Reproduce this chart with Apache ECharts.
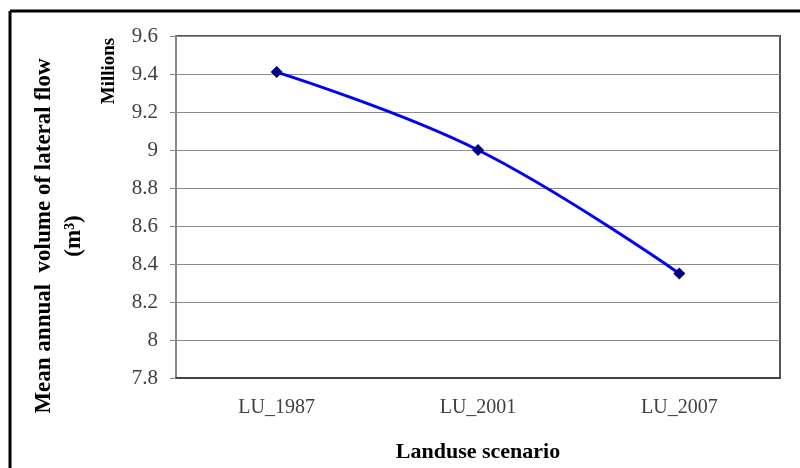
<!DOCTYPE html>
<html>
<head>
<meta charset="utf-8">
<script src="https://cdn.jsdelivr.net/npm/echarts@6/dist/echarts.min.js"></script>
<style>
  html, body { margin: 0; padding: 0; background: #fff; }
  #chart { width: 800px; height: 468px; }
</style>
</head>
<body>
<div id="chart"></div>
<script>
  // data
  const scenarios = ["LU_1987", "LU_2001", "LU_2007"];
  const lateralFlow = [9.41, 9.0, 8.35]; // millions of m3
  const yMin = 7.8;
  const yMax = 9.6;
  const yStep = 0.2;

  const serif = "Liberation Serif";
  const myChart = echarts.init(document.getElementById("chart"));

  const option = {
    backgroundColor: "#fff",
    animation: false,
    grid: {
      left: 176,
      right: 20,
      top: 36,
      bottom: 90,
      outerBoundsMode: "none",
      containLabel: false,
      show: true,
      borderColor: "#555",
      borderWidth: 2,
    },
    xAxis: {
      type: "category",
      data: scenarios,
      boundaryGap: true,
      name: "Landuse scenario",
      nameLocation: "middle",
      nameGap: 63,
      nameTextStyle: { fontFamily: serif, fontWeight: "bold", fontSize: 22, color: "#000" },
      axisLine: { lineStyle: { color: "#444", width: 2 } },
      axisTick: { length: 6, lineStyle: { color: "#888" } },
      axisLabel: { fontFamily: serif, fontSize: 20, color: "#404040", margin: 20 },
    },
    yAxis: {
      type: "value",
      min: yMin,
      max: yMax,
      interval: yStep,
      axisLine: { show: true, lineStyle: { color: "#888", width: 2 } },
      axisTick: { show: true, length: 6, lineStyle: { color: "#888" } },
      axisLabel: { fontFamily: serif, fontSize: 21, color: "#404040", margin: 18 },
      splitLine: { lineStyle: { color: "#8c8c8c", width: 1 } },
    },
    graphic: [
      // outer frame (only top & left visible in the crop)
      { type: "line", shape: { x1: 10, y1: 11, x2: 800, y2: 11 }, style: { stroke: "#000", lineWidth: 3 } },
      { type: "line", shape: { x1: 10, y1: 11, x2: 10, y2: 468 }, style: { stroke: "#000", lineWidth: 3 } },
      {
        type: "text",
        rotation: Math.PI / 2,
        x: 59, y: 236,
        style: {
          text: "Mean annual  volume of lateral flow\n(m³)",
          font: "bold 23px 'Liberation Serif'",
          fill: "#000",
          align: "center",
          verticalAlign: "middle",
          lineHeight: 30,
        },
      },
      {
        type: "text",
        rotation: Math.PI / 2,
        x: 109, y: 71,
        style: {
          text: "Millions",
          font: "bold 19px 'Liberation Serif'",
          fill: "#000",
          align: "center",
          verticalAlign: "middle",
        },
      },
    ],
    series: [
      {
        name: "Lateral flow",
        type: "line",
        data: lateralFlow,
        smooth: 0.4,
        symbol: "diamond",
        symbolSize: 12,
        itemStyle: { color: "#000080" },
        lineStyle: { color: "#0000ff", width: 3 },
      },
    ],
  };
  myChart.setOption(option);
</script>
</body>
</html>
